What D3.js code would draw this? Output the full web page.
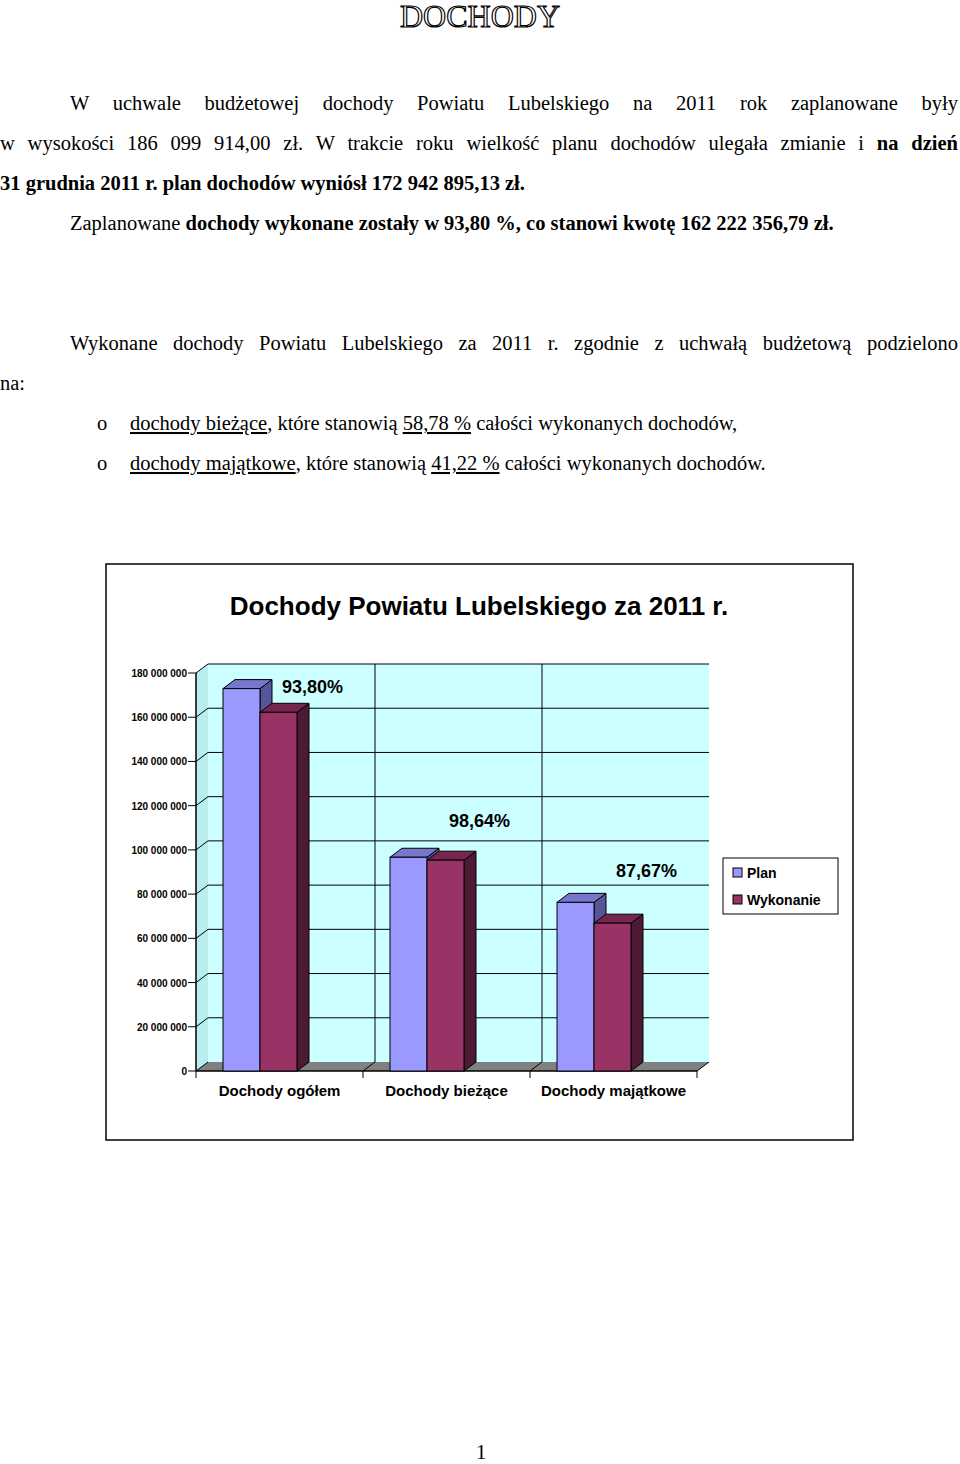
<!DOCTYPE html>
<html><head><meta charset="utf-8">
<script src="https://cdn.jsdelivr.net/npm/d3@7"></script>
<style>body{margin:0;background:#fff}</style></head>
<body><svg id="c" width="960" height="1464"></svg>
<script>
const categories=["Dochody ogółem","Dochody bieżące","Dochody majątkowe"];
const planValues=[172942895,96670000,76270000];
const wykValues=[162222357,95350000,66870000];
const pctLabels=["93,80%","98,64%","87,67%"];
const seriesNames=["Plan","Wykonanie"];
const yTicks=[0,20e6,40e6,60e6,80e6,100e6,120e6,140e6,160e6,180e6];

const svg=d3.select("#c");
const serif="'Liberation Serif','Times New Roman',serif";
const sans="'Liberation Sans',Arial,sans-serif";

svg.append("text").attr("x",480).attr("y",27).attr("text-anchor","middle")
 .attr("font-family",serif).attr("font-size",32).attr("fill","#fff").attr("stroke","#000").attr("stroke-width",1.2).text("DOCHODY");

function line(x,y,parts,width){
  const t=svg.append("text").attr("x",x).attr("y",y).attr("font-family",serif).attr("font-size",20.5);
  parts.forEach(p=>{const s=t.append("tspan").text(p[0]);if(p[1])s.attr("font-weight","bold");if(p[2])s.attr("text-decoration","underline");});
  if(width){
    const len=t.node().getComputedTextLength();
    const gaps=parts.map(p=>p[0]).join("").split(" ").length-1;
    t.attr("word-spacing",(width-len)/gaps);
  }
  return t;
}
line(70,110,[["W uchwale budżetowej dochody Powiatu Lubelskiego na 2011 rok zaplanowane były"]],888);
line(0,150,[["w wysokości 186 099 914,00 zł. W trakcie roku wielkość planu dochodów ulegała zmianie i "],["na dzień",1]],958);
line(0,190,[["31 grudnia 2011 r. plan dochodów wyniósł 172 942 895,13 zł.",1]]);
line(70,230,[["Zaplanowane "],["dochody wykonane zostały w 93,80 %, co stanowi kwotę 162 222 356,79 zł.",1]]);
line(70,350,[["Wykonane dochody Powiatu Lubelskiego za 2011 r. zgodnie z uchwałą budżetową podzielono"]],888);
line(0,390,[["na:"]]);
line(97,430,[["o"]]);line(130,430,[["dochody bieżące",0,1],[", które stanowią "],["58,78 %",0,1],[" całości wykonanych dochodów,"]]);
line(97,470,[["o"]]);line(130,470,[["dochody majątkowe",0,1],[", które stanowią "],["41,22 %",0,1],[" całości wykonanych dochodów."]]);
line(476,1459,[["1"]]);

svg.append("rect").attr("x",106).attr("y",564).attr("width",747).attr("height",576).attr("fill","#fff").attr("stroke","#000").attr("stroke-width",1.5);
svg.append("text").attr("x",479).attr("y",615).attr("text-anchor","middle").attr("font-family",sans).attr("font-weight","bold").attr("font-size",26).text("Dochody Powiatu Lubelskiego za 2011 r.");

const dx=12,dy=9;
const x0=196,x1=697;
const y=d3.scaleLinear().domain([0,180e6]).range([1071,673]);
const xb=d3.scaleBand().domain(categories).range([x0,x1]);
const xs=d3.scaleBand().domain(seriesNames).range([0,74]);
svg.append("rect").attr("x",x0+dx).attr("y",y(180e6)-dy).attr("width",x1-x0).attr("height",y(0)-y(180e6)).attr("fill","#ccffff");
svg.append("path").attr("d",`M${x0},${y(180e6)}L${x0+dx},${y(180e6)-dy}L${x0+dx},${y(0)-dy}L${x0},${y(0)}Z`).attr("fill","#b8eeee");
svg.append("path").attr("d",`M${x0},${y(0)}L${x0+dx},${y(0)-dy}L${x1+dx},${y(0)-dy}L${x1},${y(0)}Z`).attr("fill","#808080");
yTicks.slice(1).forEach(v=>{
  svg.append("line").attr("x1",x0+dx).attr("x2",x1+dx).attr("y1",y(v)-dy).attr("y2",y(v)-dy).attr("stroke","#000");
  svg.append("line").attr("x1",x0).attr("x2",x0+dx).attr("y1",y(v)).attr("y2",y(v)-dy).attr("stroke","#000");
});
categories.slice(1).forEach(c=>{
  svg.append("line").attr("x1",xb(c)+dx).attr("x2",xb(c)+dx).attr("y1",y(180e6)-dy).attr("y2",y(0)-dy).attr("stroke","#000");
});
svg.append("line").attr("x1",x0).attr("x2",x0).attr("y1",y(180e6)).attr("y2",y(0)).attr("stroke","#000").attr("stroke-width",1.5);
svg.append("line").attr("x1",x0).attr("x2",x1).attr("y1",y(0)).attr("y2",y(0)).attr("stroke","#000").attr("stroke-width",1.5);
yTicks.forEach(v=>{
  svg.append("line").attr("x1",x0-8).attr("x2",x0).attr("y1",y(v)).attr("y2",y(v)).attr("stroke","#000");
  svg.append("text").attr("x",x0-9).attr("y",y(v)+4).attr("text-anchor","end").attr("font-family",sans).attr("font-weight","bold").attr("font-size",10).text(d3.format(",")(v).replace(/,/g," "));
});
[...categories.map(c=>xb(c)),x1].forEach(xx=>{
  svg.append("line").attr("x1",xx).attr("x2",xx).attr("y1",y(0)).attr("y2",y(0)+7).attr("stroke","#000");
  svg.append("line").attr("x1",xx).attr("x2",xx+dx).attr("y1",y(0)).attr("y2",y(0)-dy).attr("stroke","#000");
});
categories.forEach(c=>svg.append("text").attr("x",xb(c)+xb.bandwidth()/2).attr("y",1096).attr("text-anchor","middle").attr("font-family",sans).attr("font-weight","bold").attr("font-size",15).text(c));

const cols={Plan:["#9999ff","#7777cc","#555599"],Wykonanie:["#993366","#772650","#4d1a33"]};
categories.forEach((c,i)=>{
  [["Plan",planValues[i]],["Wykonanie",wykValues[i]]].forEach(([s,v])=>{
    const bx=xb(c)+27+xs(s),w=xs.bandwidth(),top=y(v),bot=y(0);
    const g=svg.append("g").attr("stroke","#000").attr("stroke-width",1);
    g.append("path").attr("d",`M${bx+w},${top}L${bx+w+dx},${top-dy}L${bx+w+dx},${bot-dy}L${bx+w},${bot}Z`).attr("fill",cols[s][2]);
    g.append("path").attr("d",`M${bx},${top}L${bx+dx},${top-dy}L${bx+w+dx},${top-dy}L${bx+w},${top}Z`).attr("fill",cols[s][1]);
    g.append("rect").attr("x",bx).attr("y",top).attr("width",w).attr("height",bot-top).attr("fill",cols[s][0]);
  });
  svg.append("text").attr("x",xb(c)+27+59).attr("y",y(planValues[i])+(i==0?4:-30-(i==1?0:-5))).attr("font-family",sans).attr("font-weight","bold").attr("font-size",18).text(pctLabels[i]);
});
svg.append("rect").attr("x",723).attr("y",858).attr("width",115).attr("height",56).attr("fill","#fff").attr("stroke","#000");
seriesNames.forEach((s,i)=>{
  svg.append("rect").attr("x",733).attr("y",868+i*27).attr("width",9).attr("height",9).attr("fill",cols[s][0]).attr("stroke","#000");
  svg.append("text").attr("x",747).attr("y",878+i*27).attr("font-family",sans).attr("font-weight","bold").attr("font-size",14).text(s);
});
</script></body></html>
